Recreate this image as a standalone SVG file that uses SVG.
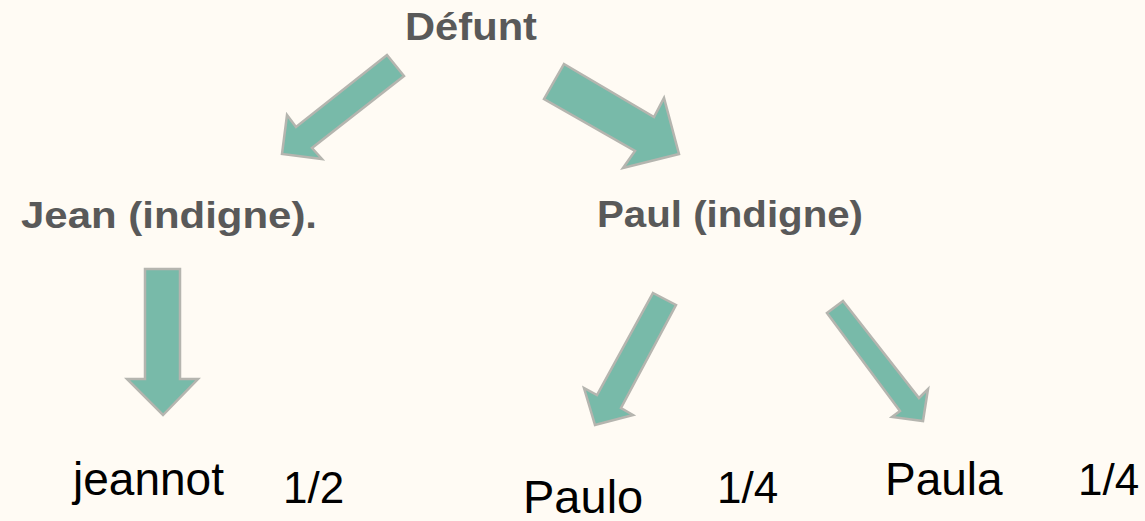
<svg xmlns="http://www.w3.org/2000/svg" width="1145" height="521" viewBox="0 0 1145 521">
<style>
.arrow{fill:#78BAA9;stroke:#B5B5AF;stroke-width:2.5;stroke-linejoin:miter}
.hd{font-family:"Liberation Sans",Arial,sans-serif;font-weight:bold;fill:#595959}
.lf{font-family:"Liberation Sans",Arial,sans-serif;fill:#000}
</style>
<rect width="1145" height="521" fill="#FFFBF4"/>
<g id="connectors">
<polygon class="arrow" points="387,55 404,76 312,148 322,159 282,154 287,115 296,127"/>
<polygon class="arrow" points="564,64 654,117 664,98 679,154 623,168 635,151 544,99"/>
<polygon class="arrow" points="145,269 180,269 180,379 198,379 163,415 127,379 145,379"/>
<polygon class="arrow" points="653,293 676,305 621,408 633,415 595,425 584,388 597,395"/>
<polygon class="arrow" points="843,301 919,398 928,389 923,421 892,417 900,411 827,313"/>
</g>
<g id="defunt"><text class="hd" x="405" y="40" font-size="38" textLength="132" lengthAdjust="spacingAndGlyphs">Défunt</text></g>
<g id="jean"><text class="hd" x="21" y="228" font-size="37" textLength="296" lengthAdjust="spacingAndGlyphs">Jean (indigne).</text></g>
<g id="paul"><text class="hd" x="597" y="227" font-size="37" textLength="266" lengthAdjust="spacingAndGlyphs">Paul (indigne)</text></g>
<g id="jeannot"><text class="lf" x="73" y="495" font-size="46">jeannot</text><text class="lf" x="283" y="503" font-size="44">1/2</text></g>
<g id="paulo"><text class="lf" x="523" y="513" font-size="47">Paulo</text><text class="lf" x="717" y="503" font-size="44">1/4</text></g>
<g id="paula"><text class="lf" x="885" y="495" font-size="46">Paula</text><text class="lf" x="1078" y="495" font-size="44">1/4</text></g>
</svg>
